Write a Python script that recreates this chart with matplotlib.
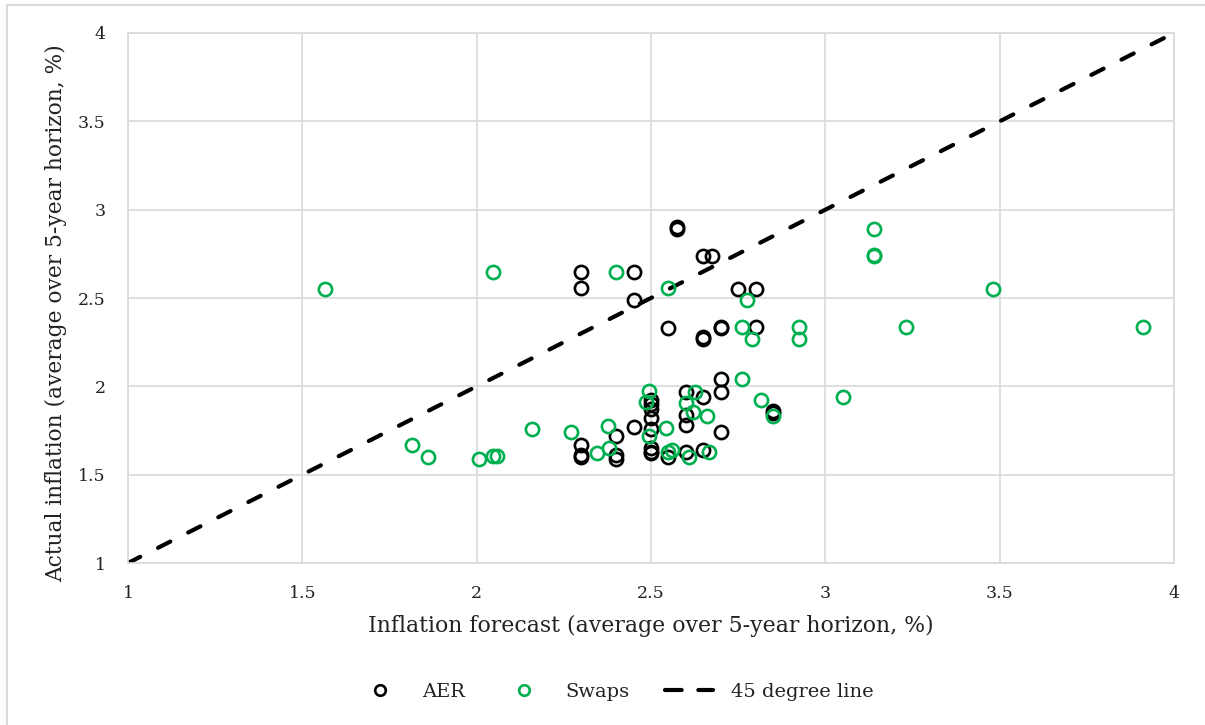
import matplotlib.pyplot as plt
from matplotlib.patches import Rectangle

plt.rcParams['font.family'] = ['DejaVu Serif']

# AER forecasts vs outturn
aer_x = [2.30, 2.30, 2.45, 2.45, 2.575, 2.575, 2.65, 2.675, 2.55, 2.65, 2.65,
         2.70, 2.70, 2.75, 2.80, 2.80, 2.70, 2.70, 2.60, 2.65, 2.50, 2.50,
         2.50, 2.50, 2.50, 2.50, 2.50, 2.50, 2.60, 2.60, 2.45, 2.40, 2.30,
         2.30, 2.30, 2.40, 2.40, 2.55, 2.60, 2.65, 2.70, 2.85, 2.85]
aer_y = [2.65, 2.555, 2.645, 2.49, 2.90, 2.89, 2.74, 2.74, 2.33, 2.28, 2.27,
         2.335, 2.33, 2.55, 2.55, 2.335, 2.04, 1.97, 1.97, 1.94, 1.92, 1.90,
         1.87, 1.82, 1.76, 1.65, 1.63, 1.62, 1.84, 1.78, 1.77, 1.72, 1.67,
         1.61, 1.60, 1.61, 1.59, 1.60, 1.63, 1.64, 1.74, 1.86, 1.85]

# swap-implied forecasts vs outturn
swaps_x = [1.565, 2.047, 2.40, 2.55, 2.775, 2.76, 2.79, 2.924, 2.924, 3.14,
           3.14, 3.14, 3.23, 3.48, 3.91, 1.815, 1.86, 2.006, 2.047, 2.058,
           2.16, 2.27, 2.377, 2.38, 2.345, 2.494, 2.485, 2.494, 2.543, 2.55,
           2.56, 2.61, 2.626, 2.60, 2.62, 2.66, 2.665, 2.76, 2.815, 2.85, 3.05]
swaps_y = [2.55, 2.647, 2.65, 2.555, 2.49, 2.335, 2.27, 2.335, 2.27, 2.89,
           2.745, 2.74, 2.335, 2.55, 2.335, 1.67, 1.60, 1.59, 1.605, 1.605,
           1.76, 1.74, 1.775, 1.65, 1.62, 1.975, 1.91, 1.72, 1.765, 1.63,
           1.64, 1.60, 1.97, 1.905, 1.855, 1.83, 1.63, 2.04, 1.92, 1.83, 1.94]

line_x = [1, 4]
line_y = [1, 4]
ticks = [1, 1.5, 2, 2.5, 3, 3.5, 4]
tick_labels = ['1', '1.5', '2', '2.5', '3', '3.5', '4']

green = '#00b050'
grid_col = '#d9d9d9'

fig = plt.figure(figsize=(12.05, 7.25), dpi=100)
fig.patches.append(Rectangle((0.006, -0.01), 1.0, 1.003, transform=fig.transFigure,
                             fill=False, edgecolor='#d9d9d9', lw=1.5))
ax = fig.add_axes([0.1062, 0.2234, 0.8681, 0.7311])

ax.plot(aer_x, aer_y, 'o', mfc='none', mec='black', ms=9.5, mew=1.9,
        ls='none', label='AER', zorder=3)
ax.plot(swaps_x, swaps_y, 'o', mfc='none', mec=green, ms=9.5, mew=1.9,
        ls='none', label='Swaps', zorder=3)
ax.plot(line_x, line_y, color='black', lw=3, ls=(0, (3.3, 4.8)),
        dash_capstyle='round', label='45 degree line', zorder=2)

ax.set_xlim(1, 4)
ax.set_ylim(1, 4)
ax.set_xticks(ticks)
ax.set_yticks(ticks)
ax.set_xticklabels(tick_labels)
ax.set_yticklabels(tick_labels)
ax.tick_params(length=0, labelsize=12.5, colors='#222222')
ax.tick_params(axis='x', pad=16)
ax.tick_params(axis='y', pad=16)
ax.grid(True, color=grid_col, lw=1.2)
ax.set_axisbelow(True)
for s in ax.spines.values():
    s.set_color(grid_col)
    s.set_linewidth(1.2)

ax.set_xlabel('Inflation forecast (average over 5-year horizon, %)', fontsize=15.8,
              color='#222222', labelpad=9)
ax.set_ylabel('Actual inflation (average over 5-year horizon, %)', fontsize=15.7,
              color='#222222')
ax.yaxis.set_label_coords(-0.058, 0.472)

leg = fig.legend(loc='center', bbox_to_anchor=(0.510, 0.0455), ncol=3, frameon=False,
                 fontsize=14, handlelength=2.5, columnspacing=1.8, handletextpad=0.9,
                 markerscale=0.8, labelcolor='#222222')
leg.get_lines()[-1].set_linestyle((0, (4, 4)))

fig.savefig('out.png', dpi=100)
